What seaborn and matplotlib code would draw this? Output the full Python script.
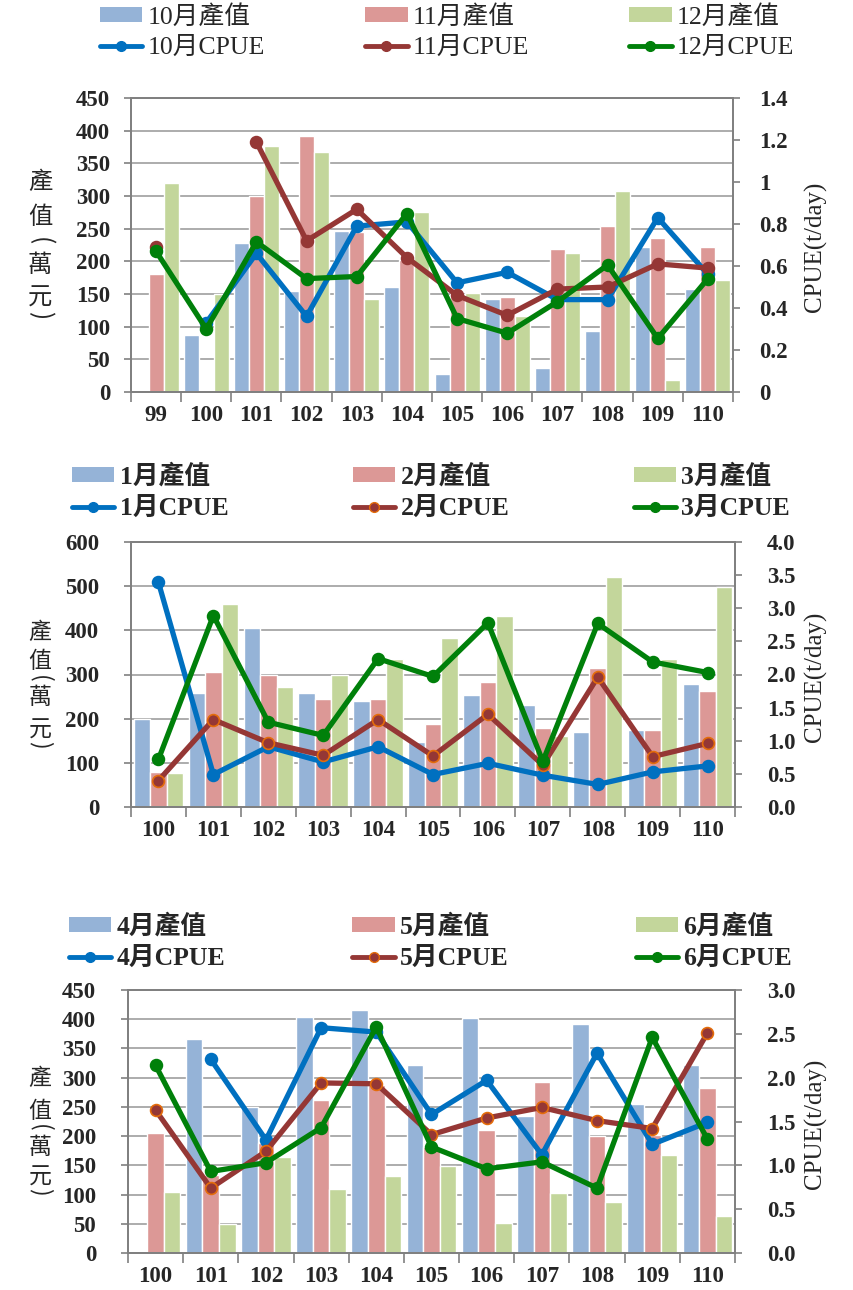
import numpy as np
import pandas as pd
import matplotlib
matplotlib.use("Agg")
import matplotlib.pyplot as plt
import seaborn as sns
from matplotlib.patches import Patch
from matplotlib.lines import Line2D

# ---- data ----
years_a = ['99', '100', '101', '102', '103', '104', '105', '106', '107', '108', '109', '110']
oct_value = [np.nan, 88, 228, 155, 246, 161, 27, 143, 37, 94, 222, 157]
nov_value = [181, np.nan, 300, 392, 245, 202, 150, 145, 219, 254, 235, 222]
dec_value = [320, 150, 377, 367, 143, 275, 151, 116, 212, 307, 19, 171]
oct_cpue = [np.nan, 0.33, 0.66, 0.36, 0.79, 0.81, 0.52, 0.57, 0.44, 0.44, 0.83, 0.56]
nov_cpue = [0.69, np.nan, 1.19, 0.72, 0.87, 0.64, 0.46, 0.365, 0.49, 0.50, 0.61, 0.59]
dec_cpue = [0.67, 0.30, 0.715, 0.54, 0.55, 0.85, 0.35, 0.28, 0.43, 0.605, 0.255, 0.54]

years_b = ['100', '101', '102', '103', '104', '105', '106', '107', '108', '109', '110']
jan_value = [200, 259, 405, 259, 240, 147, 253, 231, 169, 174, 278]
feb_value = [79, 305, 299, 244, 244, 189, 282, 180, 315, 175, 262]
mar_value = [76, 460, 272, 300, 334, 382, 433, 160, 520, 335, 499]
jan_cpue = [3.39, 0.49, 0.91, 0.68, 0.91, 0.49, 0.66, 0.48, 0.34, 0.53, 0.62]
feb_cpue = [0.40, 1.32, 0.97, 0.78, 1.32, 0.77, 1.40, 0.63, 1.96, 0.76, 0.96]
mar_cpue = [0.72, 2.89, 1.28, 1.08, 2.24, 1.97, 2.78, 0.69, 2.77, 2.19, 2.03]

apr_value = [np.nan, 366, 249, 403, 415, 321, 402, 235, 391, 255, 321]
may_value = [205, 134, 188, 262, 288, 182, 211, 293, 201, 202, 282]
jun_value = [104, 50, 164, 109, 131, 149, 51, 103, 88, 168, 64]
apr_cpue = [np.nan, 2.21, 1.29, 2.57, 2.52, 1.58, 1.97, 1.12, 2.28, 1.24, 1.49]
may_cpue = [1.63, 0.74, 1.16, 1.94, 1.93, 1.35, 1.54, 1.66, 1.51, 1.42, 2.51]
jun_cpue = [2.14, 0.93, 1.03, 1.43, 2.58, 1.21, 0.96, 1.04, 0.74, 2.46, 1.30]

BAR_COLORS = ['#95B3D7', '#DC9896', '#C3D69B']
LINE_COLORS = ['#0070C0', '#953735', '#00800A']

sns.set_theme(style='white')
plt.rcParams['font.family'] = ['Liberation Serif', 'Noto Sans CJK TC', 'DejaVu Sans']

W, H = 854, 1290
fig = plt.figure(figsize=(W / 100, H / 100), dpi=100)

# vertical axis title: characters, rotation (for the brackets)
VLABEL = [('產', 0), ('值', 0), ('(', -90), ('萬', 0), ('元', 0), (')', -90)]


def draw_panel(box, years, months, values, cpues, left_max, left_step,
               right_max, right_step, right_fmt, leg_xy, col_space, bold_leg,
               red_edge, lpad, rpad, vlab_y, vlab_size):
    l, t, r, b = box
    ax = fig.add_axes([l / W, 1 - b / H, (r - l) / W, (b - t) / H])
    n = len(years)

    bar_names = [m + '產值' for m in months]
    line_names = [m + 'CPUE' for m in months]

    bar_df = pd.concat([pd.DataFrame({'year': years, 'value': v, 'series': nm})
                        for v, nm in zip(values, bar_names)])
    bar_df['value'] = bar_df['value'].fillna(0)
    sns.barplot(data=bar_df, x='year', y='value', hue='series', order=years,
                hue_order=bar_names, palette=dict(zip(bar_names, BAR_COLORS)),
                width=0.9, saturation=1, legend=False, ax=ax)

    ax.set_xlim(-0.5, n - 0.5)
    ax.set_ylim(0, left_max)
    ax.set_yticks(np.arange(0, left_max + 1, left_step))
    ax.yaxis.grid(True, color='#A6A6A6', lw=1.3)
    ax.set_axisbelow(True)
    ax.set_xlabel('')
    ax.set_ylabel('')
    ax.set_xticks(range(n))
    ax.set_xticklabels(years, fontsize=16.5, fontweight='bold')
    ax.set_xticks(np.arange(-0.5, n, 1), minor=True)
    ax.tick_params(axis='x', which='major', length=0, pad=9)
    ax.tick_params(axis='x', which='minor', length=7, color='#808080', width=1.2, direction='out', bottom=True)
    ax.tick_params(axis='y', length=5, color='#808080', width=1.2, direction='out', left=True, pad=lpad)
    for lab in ax.get_yticklabels():
        lab.set_fontsize(16.5)
        lab.set_fontweight('bold')
    for sp in ax.spines.values():
        sp.set_color('#808080')
        sp.set_linewidth(1.3)

    ax2 = ax.twinx()
    rows = []
    for v, nm in zip(cpues, line_names):
        v = np.asarray(v, dtype=float)
        seg = np.cumsum(np.isnan(v))
        for i in range(n):
            if not np.isnan(v[i]):
                rows.append({'pos': i, 'cpue': v[i], 'series': nm, 'seg': seg[i]})
    line_df = pd.DataFrame(rows)
    for k, nm in enumerate(line_names):
        sub = line_df[line_df['series'] == nm]
        mec = '#E46C0A' if (red_edge and k == 1) else LINE_COLORS[k]
        sns.lineplot(data=sub, x='pos', y='cpue', units='seg', estimator=None,
                     color=LINE_COLORS[k], marker='o', markersize=8.5, lw=3.8,
                     markeredgecolor=mec, markeredgewidth=1.2, sort=False,
                     legend=False, ax=ax2)
    ax2.set_xlim(-0.5, n - 0.5)
    ax2.set_ylim(0, right_max)
    rticks = np.round(np.arange(0, right_max + 1e-9, right_step), 2)
    ax2.set_yticks(rticks)
    ax2.set_yticklabels([right_fmt(x) for x in rticks], fontsize=16.5, fontweight='bold')
    ax2.tick_params(axis='y', length=5, color='#808080', width=1.2, direction='out', right=True, pad=rpad)
    ax2.set_ylabel('')
    ax2.set_xlabel('')
    ax2.grid(False)
    for sp in ax2.spines.values():
        sp.set_color('#808080')
        sp.set_linewidth(1.3)

    # left title written top to bottom, right title rotated
    for (ch, rot), y in zip(VLABEL, vlab_y):
        fig.text(40 / W, 1 - y / H, ch, ha='center', va='center', rotation=rot,
                 fontsize=vlab_size, family=['Noto Sans CJK TC'])
    cy = (t + b) / 2
    fig.text(815 / W, 1 - (cy + 2) / H, 'CPUE(t/day)', ha='center', va='center',
             rotation=90, fontsize=18, family=['Liberation Serif'])

    handles = []
    labels = []
    for k in range(3):
        handles.append(Patch(facecolor=BAR_COLORS[k], edgecolor='none'))
        labels.append(bar_names[k])
        mec = '#E46C0A' if (red_edge and k == 1) else LINE_COLORS[k]
        handles.append(Line2D([], [], color=LINE_COLORS[k], lw=3.5, marker='o',
                              markersize=7, markeredgecolor=mec))
        labels.append(line_names[k])
    fig.legend(handles, labels, ncol=3, loc='upper left',
               bbox_to_anchor=(leg_xy[0] / W, 1 - leg_xy[1] / H), frameon=False,
               handlelength=1.65, handleheight=0.5, handletextpad=0.2,
               columnspacing=col_space, labelspacing=0.33, borderaxespad=0, borderpad=0,
               prop={'size': 18.5, 'weight': 'bold' if bold_leg else 'normal',
                     'family': ['Liberation Serif', 'Noto Sans CJK TC']})
    return ax


fmt_g = lambda x: f'{x:g}'
fmt_1 = lambda x: f'{x:.1f}'

draw_panel((131, 98, 733, 392), years_a, ['10月', '11月', '12月'],
           [oct_value, nov_value, dec_value], [oct_cpue, nov_cpue, dec_cpue],
           450, 50, 1.4, 0.2, fmt_g, (100, 5), 3.9, False, False, 10, 14,
           [182, 217, 241, 265, 298, 315], 17.5)

draw_panel((131, 542, 735, 807), years_b, ['1月', '2月', '3月'],
           [jan_value, feb_value, mar_value], [jan_cpue, feb_cpue, mar_cpue],
           600, 100, 4.0, 0.5, fmt_1, (72, 464), 4.85, True, True, 18, 18,
           [632, 662, 679, 698, 730, 745], 16.5)

draw_panel((128, 990, 735, 1253), years_b, ['4月', '5月', '6月'],
           [apr_value, may_value, jun_value], [apr_cpue, may_cpue, jun_cpue],
           450, 50, 3.0, 0.5, fmt_1, (69, 914), 4.95, True, True, 18, 18,
           [1078, 1112, 1128, 1147, 1177, 1192], 16.5)

fig.savefig('out.png', dpi=100)
